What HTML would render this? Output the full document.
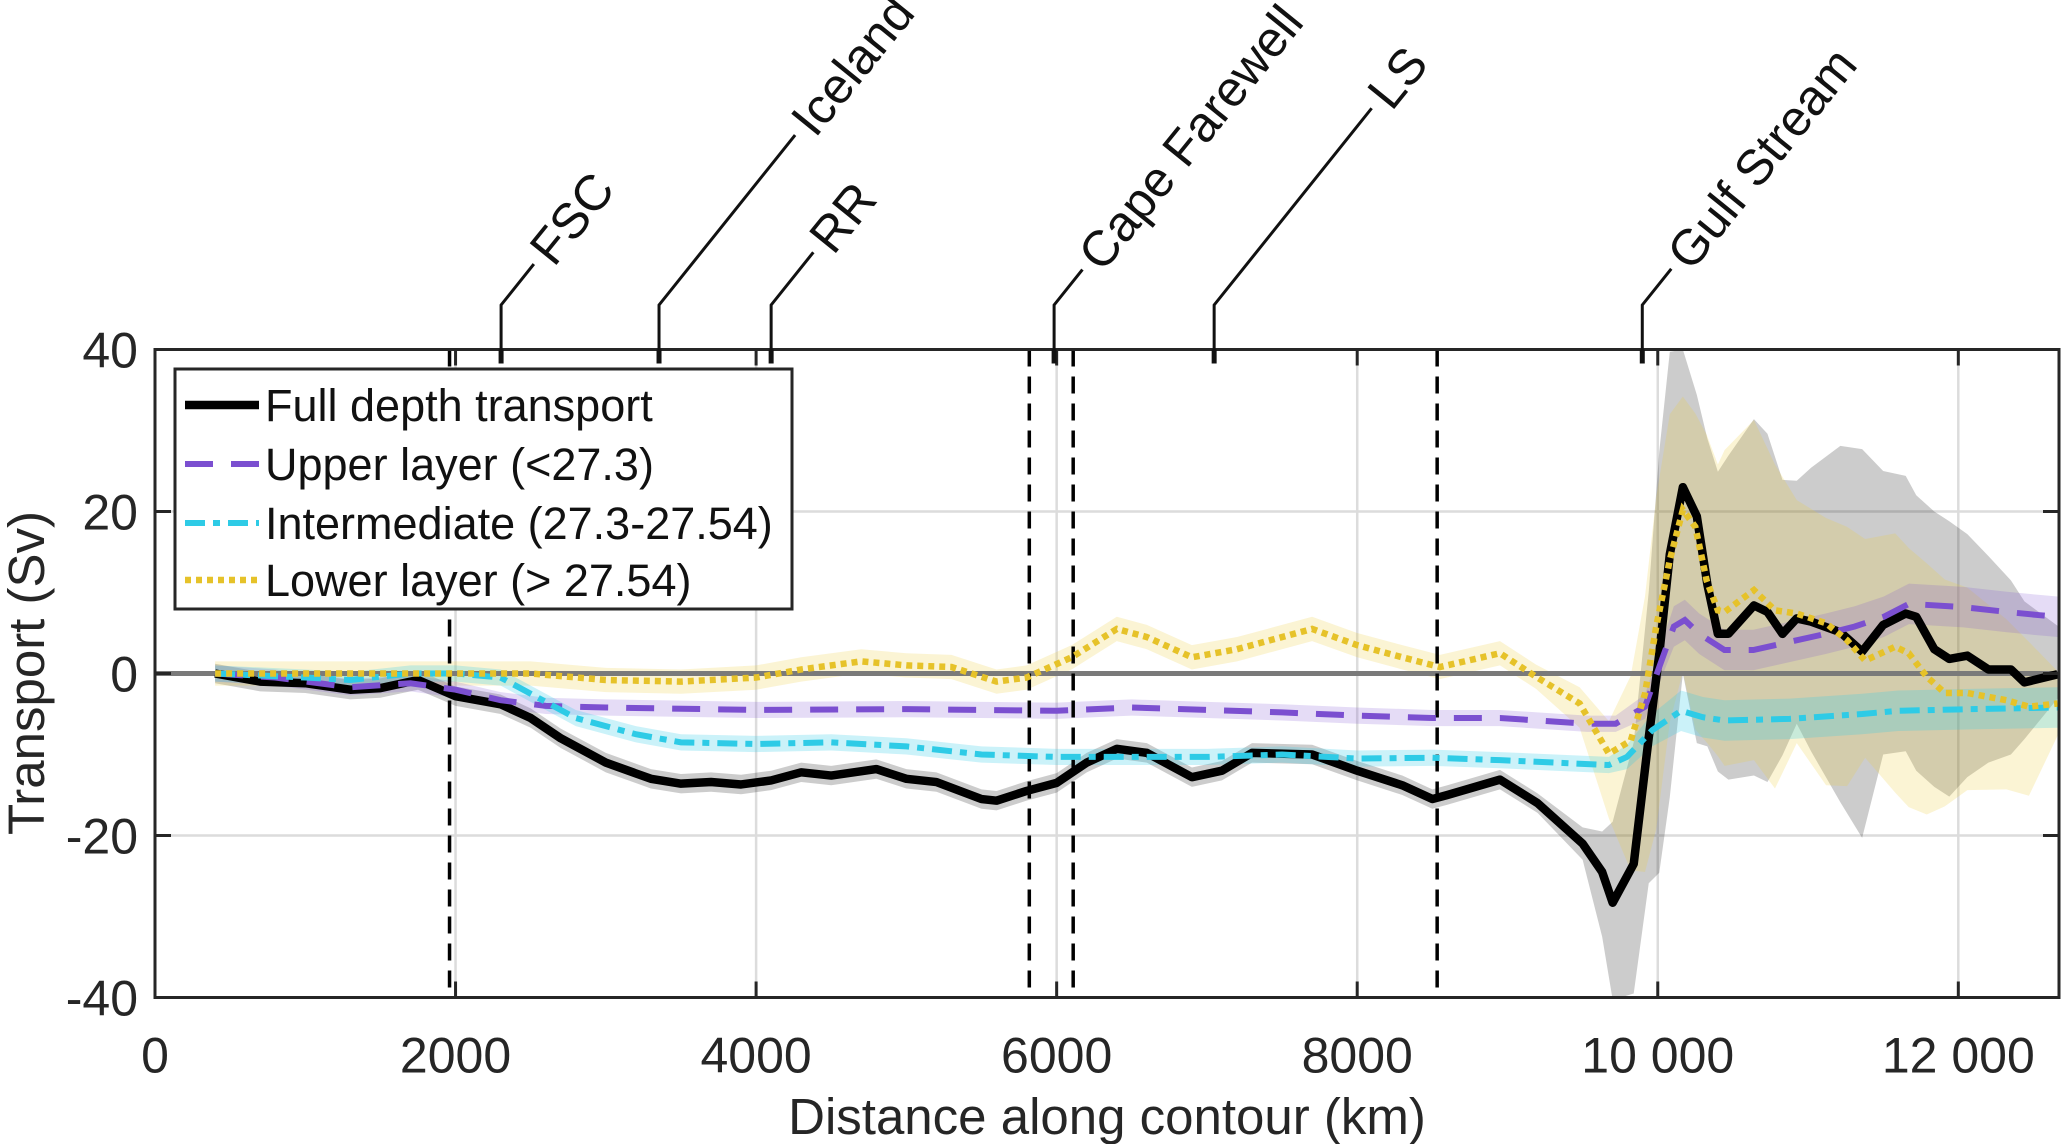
<!DOCTYPE html>
<html><head><meta charset="utf-8"><style>
html,body{margin:0;padding:0;background:#fff;}
svg{display:block;font-family:"Liberation Sans",Arial,sans-serif;}
</style></head><body>
<svg id="chart" width="2067" height="1144" viewBox="0 0 2067 1144" xmlns="http://www.w3.org/2000/svg">
<g id="grid"></g>
<g id="bands"></g>
<g id="lines"></g>
<g id="axes"></g>
<g id="annot"></g>
<g id="legend"></g>
</svg>
<script>
const fullKm=[400,700,1000,1300,1500,1750,2000,2300,2500,2700,3000,3300,3500,3700,3900,4100,4300,4500,4800,5000,5200,5500,5600,5800,6000,6200,6400,6600,6900,7100,7300,7700,8000,8300,8500,8600,8950,9200,9500,9630,9700,9840,9940,10010,10080,10167,10260,10330,10400,10470,10640,10730,10830,10925,11020,11215,11360,11500,11650,11720,11840,11940,12060,12200,12350,12440,12660];
const fullVal=[0,-1,-1.2,-2,-1.8,-0.8,-2.8,-3.8,-5.5,-8,-11,-13,-13.6,-13.4,-13.7,-13.2,-12.2,-12.6,-11.8,-13,-13.4,-15.5,-15.7,-14.5,-13.5,-11,-9.3,-9.8,-12.8,-12,-9.8,-10,-12,-13.8,-15.5,-15,-13.1,-16,-21,-24.5,-28.3,-23.5,-7.9,2.4,14.7,23,19.4,11,4.9,4.9,8.4,7.6,4.9,6.8,6.4,5.1,2.7,6,7.4,7,3,1.8,2.2,0.5,0.5,-1.1,-0.1];
const fullErrUp=[1.2,1.2,1.2,1.2,1.2,1.2,1.2,1.2,1.2,1.2,1.2,1.2,1.2,1.2,1.2,1.2,1.2,1.2,1.2,1.2,1.2,1.2,1.2,1.2,1.2,1.2,1.2,1.2,1.2,1.2,1.2,1.2,1.2,1.2,1.2,1.2,1.2,1.2,2,5,10,15,18,25,25,17,15,18,20,22,23,22,19,17,19,23,25,19,17,15,17,17,15,14,11,10,6];
const fullErrDn=[1.2,1.2,1.2,1.2,1.2,1.2,1.2,1.2,1.2,1.2,1.2,1.2,1.2,1.2,1.2,1.2,1.2,1.2,1.2,1.2,1.2,1.2,1.2,1.2,1.2,1.2,1.2,1.2,1.2,1.2,1.2,1.2,1.2,1.2,1.2,1.2,1.2,1.2,2,8,12,16,18,27,30,23,28,20,17,18,21,21,15,13,16,21,23,16,17,19,17,17,15,11.5,10.5,7,3];

const lowKm=[400,1000,2000,2500,3000,3500,4000,4300,4700,5000,5300,5600,5800,6100,6400,6600,6900,7200,7400,7700,8000,8300,8550,8950,9190,9480,9675,9820,9915,9990,10080,10167,10250,10325,10400,10445,10640,10780,10925,11120,11260,11380,11580,11670,11790,11910,12060,12320,12470,12660];
const lowVal=[0,0,0,0,-0.8,-1,-0.5,0.5,1.5,1,0.8,-1,-0.5,2,5.5,4.5,2,3,4,5.5,3.5,2,0.8,2.5,-0.4,-3.7,-9.9,-8.3,-2.5,5.8,14,20.2,18.1,11.5,7.8,7.6,10.3,7.8,7.4,6.2,4.1,1.6,3.3,2.5,-0.4,-2.4,-2.4,-3.3,-4.1,-3.7];
const lowErrUp=[1.5,1.5,1.5,1.5,1.5,1.5,1.5,1.5,1.5,1.5,1.5,1.5,1.5,1.5,1.5,1.5,1.5,1.5,1.5,1.5,1.5,1.5,1.5,1.5,1.5,2,4,8,12,16,18,14,14,18,18,20,21,18,14,13,14,15,14,13,14,14,13,10,8,4];
const lowErrDn=[1.5,1.5,1.5,1.5,1.5,1.5,1.5,1.5,1.5,1.5,1.5,1.5,1.5,1.5,1.5,1.5,1.5,1.5,1.5,1.5,1.5,1.5,1.5,1.5,1.5,3,8,16,22,25,20,20,25,20,18,19,21,22,16,20,18,12,18,19,17,14,12,11,11,4];

const upKm=[400,800,1300,1700,2000,2300,2600,3000,4000,5000,6000,6500,7000,7500,8000,8500,8950,9530,9720,9915,10010,10107,10180,10276,10444,10636,10877,11118,11311,11504,11672,12033,12323,12540,12660];
const upVal=[0,-0.5,-1.7,-1.2,-2,-3.3,-4,-4.2,-4.5,-4.4,-4.6,-4.2,-4.5,-4.8,-5.2,-5.5,-5.5,-6.2,-6.2,-4.1,0.8,5.8,6.6,4.9,2.9,2.9,3.9,4.9,5.8,7,8.6,8.2,7.6,7.2,7];
const upErr=[1,1,1,1,1,1,1,1,1,1,1,1,1,1,1,1,1,1,1,1.5,2,2.5,2.5,2.5,2.5,2.5,2.5,2.5,2.5,2.5,2.5,2.5,2.5,2.5,2.5];

const midKm=[400,1000,1300,1700,2000,2300,2500,2800,3200,3500,4000,4500,5000,5500,6000,7000,7500,8000,8500,8952,9675,9795,9963,10155,10300,10444,10877,11360,11600,12082,12660];
const midVal=[0,-0.5,-0.8,0,0,-0.5,-2.5,-5.5,-7.5,-8.5,-8.7,-8.5,-9,-10,-10.3,-10.3,-10,-10.5,-10.4,-10.7,-11.3,-10.3,-7,-4.6,-5.4,-5.8,-5.6,-5,-4.6,-4.4,-4.2];
const midErr=[1,1,1,1,1,1,1,1,1,1,1,1,1,1,1,1,1,1,1,1,1,1.5,2,2.5,2.5,2.5,2.5,2.5,2.5,2.5,2.5];

const xTicks=[0,2000,4000,6000,8000,10000,12000];
const xTickLabels=["0","2000","4000","6000","8000","10 000","12 000"];
const yTicks=[-40,-20,0,20,40];
const yTickLabels=["-40","-20","0","20","40"];
const boundaryKm=[1960,5818,6110,8532];
const siteNames=["FSC","Iceland","RR","Cape Farewell","LS","Gulf Stream"];
const siteKm=[2303,3354,4100,5983,7048,9897];
const siteReach=[52,216,67,45,250,46];

const L=155,R=2059,T=349.5,B=997.5,XMAX=12670;
const X=v=>L+(v/XMAX)*(R-L);
const Y=v=>T+(40-v)/80*(B-T);
const NS="http://www.w3.org/2000/svg";
function mk(tag,parent,attrs){const e=document.createElementNS(NS,tag);for(const k in attrs)e.setAttribute(k,attrs[k]);parent.appendChild(e);return e;}
const grid=document.getElementById('grid'),bands=document.getElementById('bands'),lines=document.getElementById('lines'),axes=document.getElementById('axes'),annot=document.getElementById('annot'),legend=document.getElementById('legend');

xTicks.forEach((t,i)=>{if(t===0)return;const g=mk('line',grid,{x1:X(t),x2:X(t),y1:T,y2:B,stroke:'#dcdcdc','stroke-width':2.5});

});
yTicks.forEach(t=>{if(t===40||t===-40||t===0)return;const g=mk('line',grid,{x1:L,x2:R,y1:Y(t),y2:Y(t),stroke:'#dcdcdc','stroke-width':2.5});

});

function bandPath(km,val,up,dn){let top=km.map((k,i)=>X(k)+','+Y(val[i]+up[i]));let bot=km.map((k,i)=>X(k)+','+Y(val[i]-dn[i])).reverse();return 'M'+top.join('L')+'L'+bot.join('L')+'Z';}
const defs=mk('defs',document.getElementById('chart'),{});
const cp=mk('clipPath',defs,{id:'plotclip'});mk('rect',cp,{x:L,y:T,width:R-L,height:B-T});
bands.setAttribute('clip-path','url(#plotclip)');
lines.setAttribute('clip-path','url(#plotclip)');
let b;
b=mk('path',bands,{d:bandPath(fullKm,fullVal,fullErrUp,fullErrDn),fill:'#000','fill-opacity':0.2});


b=mk('path',bands,{d:bandPath(lowKm,lowVal,lowErrUp,lowErrDn),fill:'#eccb3a','fill-opacity':0.22});


b=mk('path',bands,{d:bandPath(upKm,upVal,upErr,upErr),fill:'#7b4fd0','fill-opacity':0.2});


b=mk('path',bands,{d:bandPath(midKm,midVal,midErr,midErr),fill:'#2ecbe6','fill-opacity':0.25});



let z=mk('line',lines,{x1:L,x2:R,y1:Y(0),y2:Y(0),stroke:'#7a7a7a','stroke-width':5});


boundaryKm.forEach(k=>{const d=mk('line',lines,{x1:X(k),x2:X(k),y1:T,y2:B,stroke:'#000','stroke-width':3.5,'stroke-dasharray':'17 10'});

});

function pl(km,val){return km.map((k,i)=>X(k)+','+Y(val[i])).join(' ');}
let s;
s=mk('polyline',lines,{points:pl(fullKm,fullVal),fill:'none',stroke:'#000','stroke-width':8.5,'stroke-linejoin':'round'});


s=mk('polyline',lines,{points:pl(upKm,upVal),fill:'none',stroke:'#7b4fd0','stroke-width':6,'stroke-dasharray':'28 18'});


s=mk('polyline',lines,{points:pl(midKm,midVal),fill:'none',stroke:'#2ecbe6','stroke-width':6,'stroke-dasharray':'20 8 7 8'});


s=mk('polyline',lines,{points:pl(lowKm,lowVal),fill:'none',stroke:'#e6c229','stroke-width':6.5,'stroke-dasharray':'6 5'});



let f=mk('rect',axes,{x:L,y:T,width:R-L,height:B-T,fill:'none',stroke:'#262626','stroke-width':3});


xTicks.forEach((t,i)=>{
 mk('line',axes,{x1:X(t),x2:X(t),y1:B,y2:B-16,stroke:'#262626','stroke-width':3});
 mk('line',axes,{x1:X(t),x2:X(t),y1:T,y2:T+16,stroke:'#262626','stroke-width':3});
 const tx=mk('text',axes,{x:X(t),y:B+75,'text-anchor':'middle','font-size':50,fill:'#262626'});tx.textContent=xTickLabels[i];
 
 
});
yTicks.forEach((t,i)=>{
 mk('line',axes,{x1:L,x2:L+16,y1:Y(t),y2:Y(t),stroke:'#262626','stroke-width':3});
 mk('line',axes,{x1:R,x2:R-16,y1:Y(t),y2:Y(t),stroke:'#262626','stroke-width':3});
 const tx=mk('text',axes,{x:L-17,y:Y(t)+18,'text-anchor':'end','font-size':50,fill:'#262626'});tx.textContent=yTickLabels[i];
 
 
});
let xl=mk('text',axes,{x:1107,y:1134,'text-anchor':'middle','font-size':51,fill:'#262626'});xl.textContent='Distance along contour (km)';


let yl=mk('text',axes,{x:0,y:0,'text-anchor':'middle','font-size':51,fill:'#262626',transform:'translate(44,673) rotate(-90)'});yl.textContent='Transport (Sv)';



siteKm.forEach((k,i)=>{
 const x=X(k);
 mk('line',annot,{x1:x,x2:x,y1:T,y2:T+14,stroke:'#111','stroke-width':5});
 const dx=siteReach[i]*0.63, dy=siteReach[i]*0.787;
 const p=mk('polyline',annot,{points:x+','+T+' '+x+',305 '+(x+dx)+','+(305-dy),fill:'none',stroke:'#111','stroke-width':3});
 
 
 const tx=mk('text',annot,{x:0,y:0,'font-size':50,fill:'#111',transform:'translate('+(x+dx+20)+','+(305-dy+4)+') rotate(-51)'});
 tx.textContent=siteNames[i];
 
 
});

let lb=mk('rect',legend,{x:175,y:369,width:617,height:240,fill:'#fff',stroke:'#262626','stroke-width':3});


const legNames=["Full depth transport","Upper layer (<27.3)","Intermediate (27.3-27.54)","Lower layer (> 27.54)"];
const legColors=["#000","#7b4fd0","#2ecbe6","#e6c229"];
const legDash=["none","28 18","20 8 7 8","6 5"];
const legW=[8.5,6,6,6.5];
const legY=[405,464,523,580];
legNames.forEach((n,i)=>{
 const ln=mk('line',legend,{x1:185,x2:259,y1:legY[i],y2:legY[i],stroke:legColors[i],'stroke-width':legW[i],'stroke-dasharray':legDash[i]});
 
 
 const tx=mk('text',legend,{x:265,y:legY[i]+16,'font-size':45,fill:'#111'});tx.textContent=n;
 
 
});
</script>
</body></html>
